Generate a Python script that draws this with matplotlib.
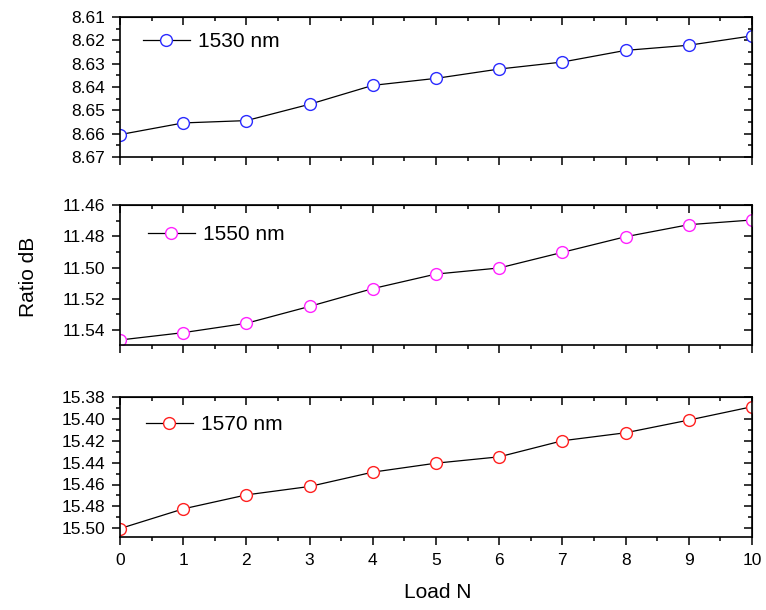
import numpy as np
import matplotlib
matplotlib.use("Agg")
import matplotlib.pyplot as plt
from matplotlib.ticker import MultipleLocator, FormatStrFormatter

plt.rcParams['font.family'] = ['Liberation Sans', 'DejaVu Sans']

# Data
load = [0, 1, 2, 3, 4, 5, 6, 7, 8, 9, 10]
ratio_1530 = [8.6604, 8.6554, 8.6544, 8.6474, 8.6393, 8.6363, 8.6323, 8.6293, 8.6243, 8.6221, 8.6181]
ratio_1550 = [11.5464, 11.5417, 11.5357, 11.5249, 11.5135, 11.5042, 11.5003, 11.4903, 11.4803, 11.4726, 11.4696]
ratio_1570 = [15.5003, 15.4823, 15.4695, 15.4618, 15.4487, 15.4405, 15.4347, 15.4200, 15.4127, 15.4011, 15.3889]
labels = ["1530 nm", "1550 nm", "1570 nm"]
colors = ["#2b2bff", "#ff22ff", "#ff2020"]

fig = plt.figure(figsize=(7.66, 6.10), dpi=100)

left, width, height = 120 / 766, 632 / 766, 140 / 610
bottoms = [1 - 157 / 610, 1 - 345 / 610, 1 - 537 / 610]
ylims = [(8.67, 8.61), (11.5496, 11.46), (15.508, 15.38)]
major = [0.01, 0.02, 0.02]
minor = [0.005, 0.01, 0.01]
leg_pos = [(0.036, 0.824), (0.044, 0.786), (0.041, 0.805)]
series = [ratio_1530, ratio_1550, ratio_1570]

for i in range(3):
    ax = fig.add_axes([left, bottoms[i], width, height])
    ax.plot(load, series[i], color='black', lw=0.9, marker='o', markersize=8.5,
            markerfacecolor='white', markeredgecolor=colors[i], markeredgewidth=1.0,
            label=labels[i])
    ax.set_xlim(0, 10)
    ax.set_ylim(*ylims[i])
    ax.xaxis.set_major_locator(MultipleLocator(1))
    ax.xaxis.set_minor_locator(MultipleLocator(0.5))
    ax.yaxis.set_major_locator(MultipleLocator(major[i]))
    ax.yaxis.set_minor_locator(MultipleLocator(minor[i]))
    ax.yaxis.set_major_formatter(FormatStrFormatter('%.2f'))
    ax.tick_params(which='major', direction='out', length=6, width=1.1, labelsize=12.5)
    ax.tick_params(axis='y', which='major', pad=4.5)
    ax.tick_params(axis='x', which='major', pad=5.5)
    ax.tick_params(which='minor', direction='out', length=3, width=1.1)
    for s in ax.spines.values():
        s.set_linewidth(1.2)
    if i < 2:
        ax.tick_params(axis='x', labelbottom=False)

    # mirrored ticks pointing inward on top and right
    top = ax.secondary_xaxis('top')
    top.xaxis.set_major_locator(MultipleLocator(1))
    top.xaxis.set_minor_locator(MultipleLocator(0.5))
    top.tick_params(which='major', direction='in', length=6, width=1.1, labeltop=False)
    top.tick_params(which='minor', direction='in', length=3, width=1.1)
    right = ax.secondary_yaxis('right')
    right.yaxis.set_major_locator(MultipleLocator(major[i]))
    right.yaxis.set_minor_locator(MultipleLocator(minor[i]))
    right.tick_params(which='major', direction='in', length=6, width=1.1, labelright=False)
    right.tick_params(which='minor', direction='in', length=3, width=1.1)

    ax.legend(loc='center left', bbox_to_anchor=leg_pos[i], frameon=False,
              borderpad=0, borderaxespad=0, handlelength=2.25, handletextpad=0.4,
              fontsize=15)

fig.text(28 / 766, 1 - 277 / 610, "Ratio dB", rotation=90, ha='center', va='center', fontsize=15)
fig.text(438 / 766, 1 - 593 / 610, "Load N", ha='center', va='center', fontsize=15)

fig.savefig("out.png", dpi=100)
